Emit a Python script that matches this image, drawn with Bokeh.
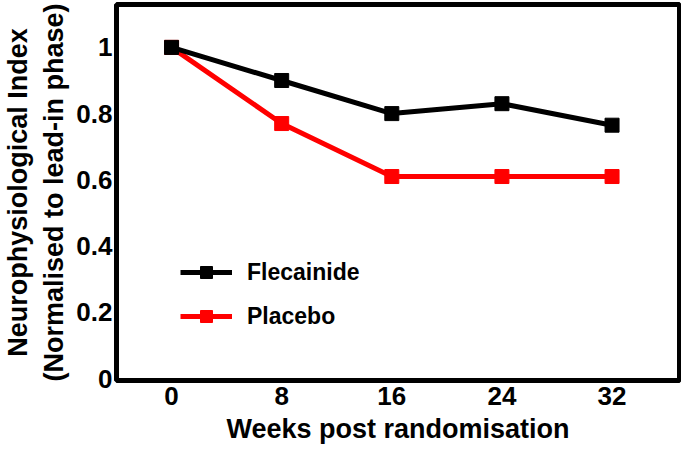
from bokeh.plotting import figure
from bokeh.models import Range1d, FixedTicker, Legend, LegendItem
from bokeh.embed import file_html
from bokeh.resources import INLINE

weeks = [0, 8, 16, 24, 32]
flecainide = [1.0, 0.90, 0.80, 0.83, 0.765]
placebo = [1.0, 0.77, 0.61, 0.61, 0.61]
x_ticks = [0, 8, 16, 24, 32]
y_ticks = [0, 0.2, 0.4, 0.6, 0.8, 1]
y_tick_labels = ["0", "0.2", "0.4", "0.6", "0.8", "1"]

FONT = "Liberation Sans"

p = figure(width=681, height=446, output_backend="svg", toolbar_location=None,
           x_range=Range1d(-4, 36.9), y_range=Range1d(-0.006, 1.1295),
           min_border_left=110, min_border_right=2, min_border_top=4, min_border_bottom=65)

p.background_fill_color = "white"
p.border_fill_color = "white"
p.outline_line_color = "black"
p.outline_line_width = 5
p.outline_line_alpha = 1.0
p.xgrid.visible = False
p.ygrid.visible = False

r_pl_line = p.line(weeks, placebo, line_color="#ff0000", line_width=5)
r_pl_pts = p.scatter(weeks, placebo, marker="square", size=14, fill_color="#ff0000", line_color="#ff0000")
r_fl_line = p.line(weeks, flecainide, line_color="black", line_width=5)
r_fl_pts = p.scatter(weeks, flecainide, marker="square", size=14, fill_color="black", line_color="black")

for ax in (p.xaxis[0], p.yaxis[0]):
    ax.axis_line_color = None
    ax.major_tick_line_color = None
    ax.minor_tick_line_color = None
    ax.major_tick_out = 0
    ax.major_tick_in = 0
    ax.major_label_text_font = FONT
    ax.major_label_text_font_style = "bold"
    ax.major_label_text_font_size = "26px"
    ax.major_label_text_color = "black"
    ax.axis_label_text_font = FONT
    ax.axis_label_text_font_style = "bold"
    ax.axis_label_text_color = "black"

p.xaxis.axis_label_text_font_size = "27px"
p.yaxis.axis_label_text_font_size = "27px"
p.xaxis.ticker = FixedTicker(ticks=x_ticks)
p.yaxis.ticker = FixedTicker(ticks=y_ticks)
p.yaxis.major_label_overrides = dict(zip(y_ticks, y_tick_labels))
p.xaxis.axis_label = "Weeks post randomisation"
p.yaxis.axis_label = "Neurophysiological Index\n(Normalised to lead-in phase)"
p.xaxis.major_label_standoff = 6
p.xaxis.axis_label_standoff = 6
p.yaxis.major_label_standoff = 4
p.yaxis.axis_label_standoff = 4
p.yaxis.axis_label_text_line_height = 1.2

legend = Legend(items=[
    LegendItem(label="Flecainide", renderers=[r_fl_line, r_fl_pts]),
    LegendItem(label="Placebo", renderers=[r_pl_line, r_pl_pts]),
], location=(64, 49))
legend.border_line_color = None
legend.background_fill_alpha = 0
legend.padding = 0
legend.margin = 0
legend.spacing = 14
legend.glyph_width = 52
legend.glyph_height = 30
legend.label_height = 30
legend.label_standoff = 15
legend.label_text_font = FONT
legend.label_text_font_style = "bold"
legend.label_text_font_size = "23px"
legend.label_text_color = "black"
p.add_layout(legend, "center")

open("out.html", "w").write(file_html(p, INLINE))
